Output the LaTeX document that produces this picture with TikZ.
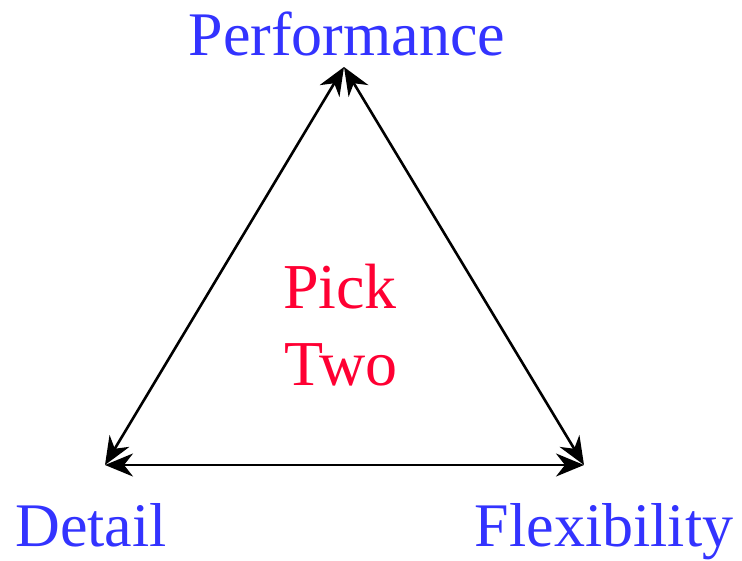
\documentclass[tikz,border=0pt]{standalone}
\usepackage{fontspec}
\setmainfont{Liberation Serif}
\usetikzlibrary{arrows.meta}
\definecolor{lblblue}{RGB}{51,51,255}
\definecolor{pickred}{RGB}{255,0,51}
\begin{document}
\begin{tikzpicture}[x=1pt,y=-1pt,
  corner/.style={text=lblblue,font=\fontsize{62}{62}\selectfont,anchor=base,inner sep=0pt},
  center/.style={text=pickred,font=\fontsize{64}{64}\selectfont,anchor=base,inner sep=0pt},
  link/.style={line width=2.6pt,{Stealth[length=28pt,width=23pt,inset=9pt]}-{Stealth[length=28pt,width=23pt,inset=9pt]}}]
\useasboundingbox (0,0) rectangle (742,561);
\coordinate (top) at (344,67);
\coordinate (bl) at (105,465);
\coordinate (br) at (584,465);
\node[corner] (perf) at (347,56) {Performance};
\node[corner] (det) at (91,546) {Detail};
\node[corner] (flex) at (604,546) {Flexibility};
\node[center] (pick) at (340,309) {Pick};
\node[center] (two) at (341,386) {Two};
\draw[link] (top) -- (bl);
\draw[link] (top) -- (br);
\draw[link] (bl) -- (br);
\end{tikzpicture}
\end{document}
